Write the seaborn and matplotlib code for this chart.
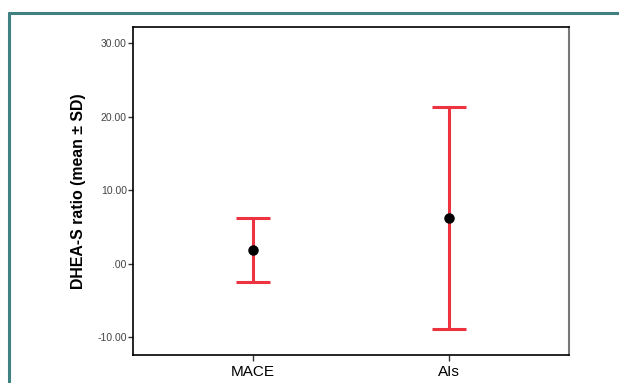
import matplotlib
matplotlib.use("Agg")
import matplotlib.pyplot as plt
from matplotlib.lines import Line2D
import seaborn as sns
import pandas as pd

groups = ["MACE", "AIs"]
means = [1.85, 6.25]
sds = [4.40, 15.12]
yticks = [-10, 0, 10, 20, 30]
ytick_labels = ["-10.00", ".00", "10.00", "20.00", "30.00"]
ylabel = "DHEA-S ratio (mean \u00b1 SD)"

df = pd.DataFrame({"group": groups, "mean": means, "sd": sds})

sns.set_style("white")
plt.rcParams["font.family"] = ["Liberation Sans", "DejaVu Sans"]

fig = plt.figure(figsize=(6.19, 3.83), dpi=100)
ax = fig.add_axes([133 / 619, 1 - 355 / 383, (569 - 133) / 619, (355 - 27) / 383])

red = "#ee3340"
ax.errorbar(range(len(groups)), df["mean"], yerr=df["sd"], fmt="none",
            ecolor=red, elinewidth=2.2, capsize=12.3, capthick=2.2, zorder=2)
sns.pointplot(data=df, x="group", y="mean", order=groups, linestyle="none",
              errorbar=None, color="black", markersize=5.5, ax=ax, zorder=3)

ax.set_xlim(-0.612, 1.612)
ax.set_ylim(-12.42, 32.2)
ax.set_yticks(yticks)
ax.set_yticklabels(ytick_labels, fontsize=7.5, color="#444444")
ax.set_xticks(range(len(groups)))
ax.set_xticklabels(groups, fontsize=11, color="black")
ax.set_xlabel("")
ax.set_ylabel(ylabel, fontsize=11.4, fontweight="bold", color="black", labelpad=8)

ax.tick_params(axis="y", direction="out", length=3.5, width=1, color="#333333", pad=1, left=True)
ax.tick_params(axis="x", direction="out", length=4, width=1, color="#333333", pad=3, bottom=True)
for side in ["left", "bottom", "top"]:
    ax.spines[side].set_color("black")
    ax.spines[side].set_linewidth(1.2)
ax.spines["right"].set_color("#777777")
ax.spines["right"].set_linewidth(1.5)

teal = "#3f8080"
W, H = 619, 383
fig.add_artist(Line2D([8.5 / W, 1.0], [1 - 12.5 / H, 1 - 12.5 / H], color=teal, lw=2.2, transform=fig.transFigure))
fig.add_artist(Line2D([8.5 / W, 8.5 / W], [0, 1 - 12.5 / H], color=teal, lw=2.2, transform=fig.transFigure))

fig.savefig("out.png", dpi=100)
